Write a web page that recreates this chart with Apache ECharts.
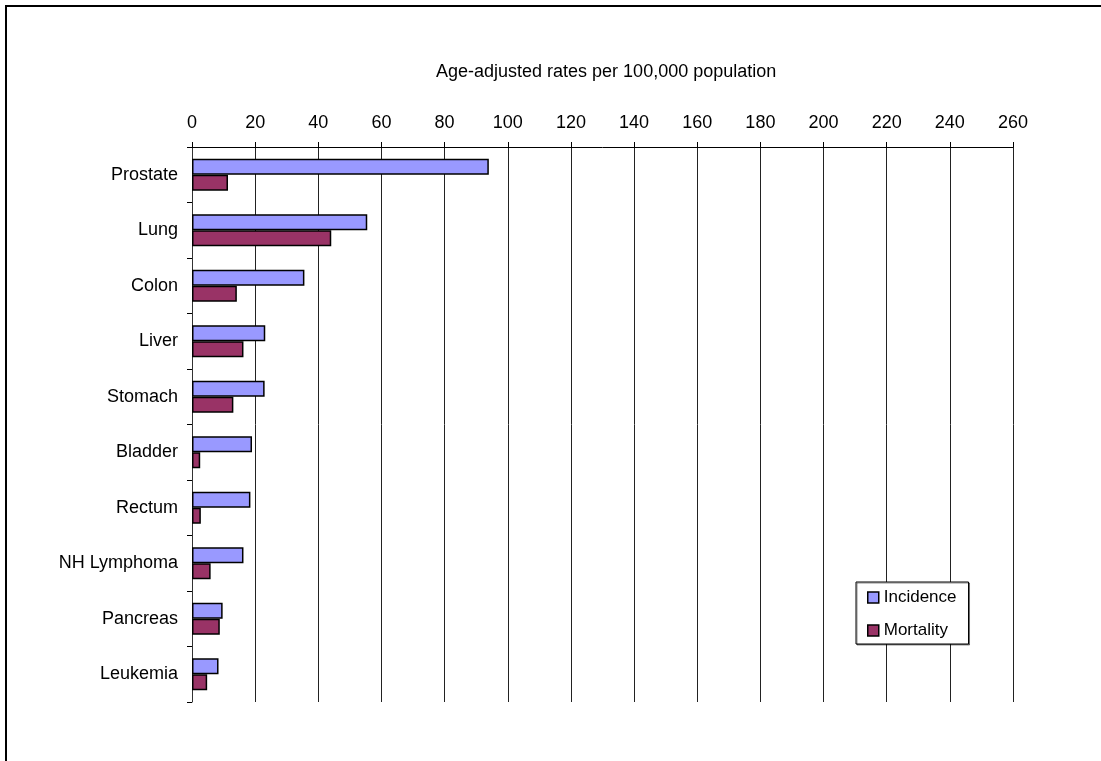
<!DOCTYPE html>
<html>
<head>
<meta charset="utf-8">
<script src="https://cdn.jsdelivr.net/npm/echarts@6/dist/echarts.min.js"></script>
<style>
html,body{margin:0;padding:0;background:#fff;}
#c{width:1101px;height:761px;}
</style>
</head>
<body>
<div id="c"></div>
<script>
var categories = ['Prostate','Lung','Colon','Liver','Stomach','Bladder','Rectum','NH Lymphoma','Pancreas','Leukemia'];
var incidence = [94.0, 55.5, 35.6, 23.2, 23.0, 19.0, 18.5, 16.3, 9.7, 8.4];
var mortality = [11.4, 44.1, 14.2, 16.3, 13.1, 2.6, 2.8, 5.9, 8.8, 4.8];
var tickValues = [0,20,40,60,80,100,120,140,160,180,200,220,240,260];

var FONT = "'Liberation Sans', Arial, sans-serif";
var chart = echarts.init(document.getElementById('c'), null, {renderer:'canvas'});
chart.setOption({
  animation:false,
  backgroundColor:'#fff',
  textStyle:{fontFamily:FONT},
  graphic:[{
    type:'rect', shape:{x:6, y:6, width:1300, height:1000},
    style:{fill:'none', stroke:'#000', lineWidth:2}, silent:true, z:100
  }],
  title:{
    text:'Age-adjusted rates per 100,000 population',
    left:431, top:58,
    textStyle:{fontFamily:FONT, fontSize:18, fontWeight:'normal', color:'#000'}
  },
  legend:{
    orient:'vertical', left:856, top:582,
    padding:[6,12,4,11], itemGap:14, itemWidth:11, itemHeight:11, icon:'rect',
    backgroundColor:'#fff', borderColor:'#000', borderWidth:1,
    shadowColor:'rgba(0,0,0,0.45)', shadowOffsetX:1, shadowOffsetY:1, shadowBlur:0,
    itemStyle:{borderColor:'#000', borderWidth:1.5},
    textStyle:{fontFamily:FONT, fontSize:17, color:'#000', lineHeight:19},
    data:['Incidence','Mortality']
  },
  grid:{left:192, top:147, right:88, bottom:59, containLabel:false},
  xAxis:{
    type:'value', position:'top', min:0, max:260, interval:20,
    axisLine:{show:true, lineStyle:{color:'#000', width:1}},
    axisTick:{show:true, length:5, lineStyle:{color:'#000'}},
    axisLabel:{fontFamily:FONT, fontSize:18, color:'#000', margin:15,
      formatter:function(v){ return tickValues.indexOf(v) >= 0 ? String(v) : ''; }},
    splitLine:{show:true, lineStyle:{color:'#222', width:1}}
  },
  yAxis:{
    type:'category', data:categories, inverse:true,
    axisLine:{show:true, lineStyle:{color:'#333', width:1}},
    axisTick:{show:true, length:5, lineStyle:{color:'#000'}},
    axisLabel:{fontFamily:FONT, fontSize:18, color:'#000', margin:14}
  },
  series:[
    {name:'Incidence', type:'bar', data:incidence, barWidth:16, barGap:'0%',
     itemStyle:{color:'#9999FF', borderColor:'#000', borderWidth:1.5}},
    {name:'Mortality', type:'bar', data:mortality, barWidth:16, barGap:'0%',
     itemStyle:{color:'#993366', borderColor:'#000', borderWidth:1.5}}
  ]
});
</script>
</body>
</html>
